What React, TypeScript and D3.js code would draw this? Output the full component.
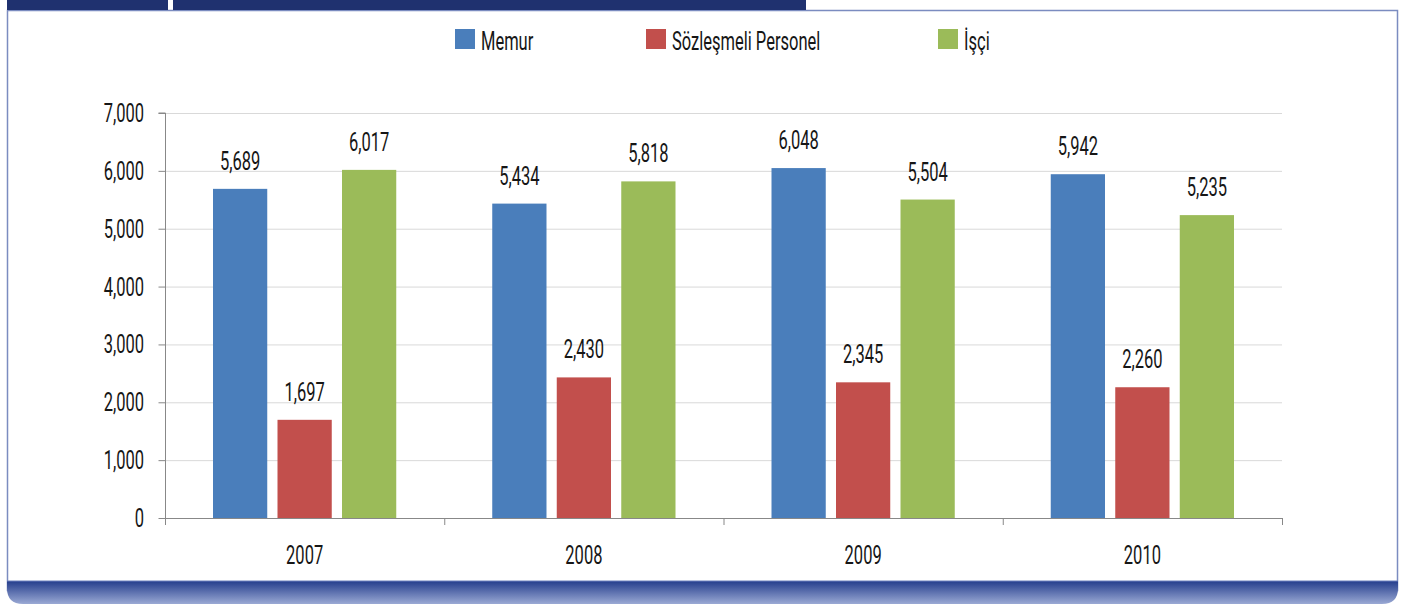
import { useRef, useEffect } from 'react';
import * as d3 from 'd3';

const years = ['2007', '2008', '2009', '2010'];
const seriesNames = ['Memur', 'Sözleşmeli Personel', 'İşçi'];
const seriesColors = ['#4a7ebb', '#c24f4c', '#9bbb59'];
const memur = [5689, 5434, 6048, 5942];
const sozlesmeli = [1697, 2430, 2345, 2260];
const isci = [6017, 5818, 5504, 5235];
const yTicks = [0, 1000, 2000, 3000, 4000, 5000, 6000, 7000];

const W = 1401;
const H = 604;
const FONT = 'Roboto, "Liberation Sans", sans-serif';
const SQ = 0.66; // horizontal squeeze to mimic the condensed face

export default function App() {
    const svgRef = useRef<SVGSVGElement | null>(null);

    useEffect(() => {
        if (!svgRef.current) return;
        const svg = d3.select(svgRef.current);
        svg.selectAll('*').remove();

        const values = [memur, sozlesmeli, isci];

        // condensed text helper
        const label = (parent: d3.Selection<SVGGElement, unknown, null, undefined>, x: number, y: number, txt: string, anchor: string) =>
            parent.append('text')
                .attr('transform', `translate(${x},${y}) scale(${SQ},1)`)
                .attr('text-anchor', anchor)
                .attr('font-family', FONT).attr('font-size', 25).attr('fill', '#161616')
                .text(txt);

        // frame
        const defs = svg.append('defs');
        const grad = defs.append('linearGradient')
            .attr('id', 'bottomBand')
            .attr('x1', 0).attr('y1', 0).attr('x2', 0).attr('y2', 1);
        grad.append('stop').attr('offset', '0%').attr('stop-color', '#243d8c');
        grad.append('stop').attr('offset', '100%').attr('stop-color', '#9aa9d4');

        svg.append('rect').attr('x', 0).attr('y', 0).attr('width', W).attr('height', H).attr('fill', '#fff');
        svg.append('rect')
            .attr('x', 7.5).attr('y', 10.5).attr('width', 1390).attr('height', 580)
            .attr('fill', '#fff').attr('stroke', '#7b8cc0').attr('stroke-width', 1.5);
        svg.append('rect').attr('x', 7).attr('y', 0).attr('width', 161).attr('height', 10).attr('fill', '#1f316f');
        svg.append('rect').attr('x', 173).attr('y', 0).attr('width', 633).attr('height', 10).attr('fill', '#1f316f');
        svg.append('path')
            .attr('d', `M7,581 H1398 V588 Q1398,604 1382,604 H23 Q7,604 7,588 Z`)
            .attr('fill', 'url(#bottomBand)');
        svg.append('line')
            .attr('x1', 7).attr('x2', 1398).attr('y1', 581).attr('y2', 581)
            .attr('stroke', '#6c80bd').attr('stroke-width', 1);

        // scales
        const x0 = d3.scaleBand<string>().domain(years).range([165, 1282]);
        const x1 = d3.scaleBand<string>()
            .domain(seriesNames)
            .range([48, x0.bandwidth() - 48])
            .paddingInner(0.159);
        const y = d3.scaleLinear().domain([0, 7000]).range([518, 113]);
        const fmt = d3.format(',');

        const g = svg.append('g');

        // gridlines
        g.selectAll('line.grid')
            .data(yTicks.filter(d => d > 0))
            .enter().append('line')
            .attr('x1', 165).attr('x2', 1282)
            .attr('y1', d => y(d) + 0.5).attr('y2', d => y(d) + 0.5)
            .attr('stroke', '#d9d9d9').attr('stroke-width', 1);

        // y axis
        const yAxis = g.append('g')
            .attr('transform', 'translate(165.5,0)')
            .call(d3.axisLeft(y).tickValues(yTicks).tickFormat(() => '').tickSize(7));
        yAxis.select('.domain').attr('stroke', '#888').attr('d', `M-7,${y(7000)}H0V${y(0)}`);
        yAxis.selectAll('.tick line').attr('stroke', '#888');
        yTicks.forEach(t => label(g, 144, y(t) + 9, fmt(t), 'end'));

        // x axis
        g.append('line')
            .attr('x1', 165).attr('x2', 1282).attr('y1', 518.5).attr('y2', 518.5)
            .attr('stroke', '#888');
        g.selectAll('line.xtick')
            .data([...years.map(d => x0(d) as number), 1282])
            .enter().append('line')
            .attr('x1', d => d + 0.5).attr('x2', d => d + 0.5)
            .attr('y1', 518).attr('y2', 525)
            .attr('stroke', '#888');
        years.forEach(yr => label(g, (x0(yr) as number) + x0.bandwidth() / 2, 564, yr, 'middle'));

        // bars
        seriesNames.forEach((s, si) => {
            const data = years.map((yr, i) => ({ yr, v: values[si][i] }));
            g.selectAll(`rect.s${si}`)
                .data(data)
                .enter().append('rect')
                .attr('x', d => (x0(d.yr) as number) + (x1(s) as number))
                .attr('y', d => y(d.v))
                .attr('width', x1.bandwidth())
                .attr('height', d => y(0) - y(d.v))
                .attr('fill', seriesColors[si]);
            data.forEach(d => label(g,
                (x0(d.yr) as number) + (x1(s) as number) + x1.bandwidth() / 2,
                y(d.v) - 19, fmt(d.v), 'middle'));
        });

        // legend
        const legendX = [455, 646, 938];
        seriesNames.forEach((s, si) => {
            g.append('rect')
                .attr('x', legendX[si]).attr('y', 29)
                .attr('width', 20).attr('height', 20)
                .attr('fill', seriesColors[si]);
            label(g, legendX[si] + 26, 50, s, 'start');
        });
    }, []);

    return (
        <svg ref={svgRef} width={W} height={H} style={{ position: 'absolute', left: 0, top: 0 }} />
    );
}
